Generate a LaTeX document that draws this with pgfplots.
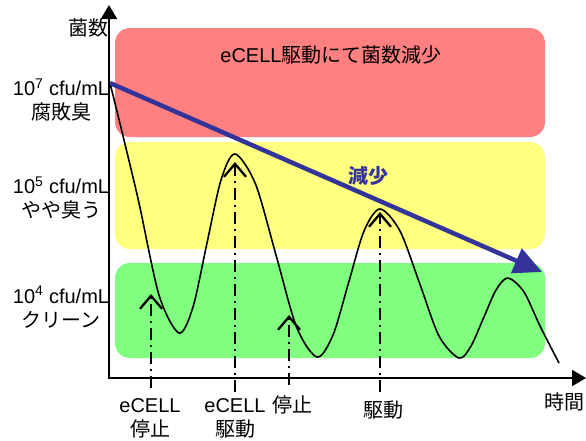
\documentclass[border=0pt]{standalone}
\usepackage{pgfplots}
\pgfplotsset{compat=1.18}
\usetikzlibrary{arrows.meta}
\usepackage{fontspec}
\setmainfont{Liberation Sans}
\newfontfamily\jp{Noto Sans CJK JP}

\definecolor{boxred}{HTML}{FF8080}
\definecolor{boxyellow}{HTML}{FFFF80}
\definecolor{boxgreen}{HTML}{80FF80}
\definecolor{arrowblue}{HTML}{333399}

\begin{document}
\begin{tikzpicture}
\begin{axis}[
    width=586pt, height=440pt,
    scale only axis,
    xmin=0, xmax=586,
    ymin=0, ymax=440,
    y dir=reverse,
    hide axis,
    clip=false,
]

% zones
\fill[boxred, rounded corners=15pt] (axis cs:115,28) rectangle (axis cs:545,137);
\fill[boxyellow, rounded corners=15pt] (axis cs:115,142) rectangle (axis cs:545,249);
\fill[boxgreen, rounded corners=15pt] (axis cs:115,263) rectangle (axis cs:545,358);

% bacteria count
\addplot[black, line width=1.6pt, smooth] coordinates {
(110,83) (124,140) (139,203) (159,295) (179,333)
(193,307) (207,243) (221,180) (235,154)
(255.5,184) (276,255) (296.5,327) (317,357)
(333,335) (348.5,283) (364,231) (380,209)
(400,231) (419.5,283) (439,336) (459,358)
(471,346) (483.5,318) (496,290) (508,278)
(524,292) (540,326) (559,363)
};

% trend
\addplot[arrowblue, line width=4.5pt, -{Triangle[length=28pt, width=26pt]}]
    coordinates {(110,83) (542,272)};

% eCELL on / off
\addplot[black, line width=2.3pt, dash pattern=on 12pt off 5pt on 2pt off 5pt,
    -{Straight Barb[length=13pt, width=22pt, line width=2.3pt]}]
    coordinates {(151,388) (151,294)};
\addplot[black, line width=2.3pt, dash pattern=on 12pt off 5pt on 2pt off 5pt,
    -{Straight Barb[length=13pt, width=22pt, line width=2.3pt]}]
    coordinates {(235,392) (235,162)};
\addplot[black, line width=2.3pt, dash pattern=on 12pt off 5pt on 2pt off 5pt,
    -{Straight Barb[length=13pt, width=22pt, line width=2.3pt]}]
    coordinates {(289,385) (289,315)};
\addplot[black, line width=2.3pt, dash pattern=on 12pt off 5pt on 2pt off 5pt,
    -{Straight Barb[length=13pt, width=22pt, line width=2.3pt]}]
    coordinates {(380,392) (380,212)};

% axes
\addplot[black, line width=2pt, -{Triangle[length=14pt, width=16pt]}]
    coordinates {(109,378) (109,5)};
\addplot[black, line width=2pt, -{Triangle[length=14pt, width=16pt]}]
    coordinates {(108,378) (586,378)};

% texts
\tikzset{every node/.style={font=\fontsize{20}{24}\selectfont, inner sep=0pt}}
\node at (axis cs:331,55) {eCELL{\jp 駆動にて菌数減少}};
\node[text=arrowblue] at (axis cs:368,176) {\jp\bfseries 減少};
\node[anchor=east] at (axis cs:109,28) {\jp 菌数};
\node[align=center] at (axis cs:61,100) {10\textsuperscript{7} cfu/mL\\{\jp 腐敗臭}};
\node[align=center] at (axis cs:61,198) {10\textsuperscript{5} cfu/mL\\{\jp やや臭う}};
\node[align=center] at (axis cs:61,307) {10\textsuperscript{4} cfu/mL\\{\jp クリーン}};
\node[align=center] at (axis cs:150,418) {eCELL\\{\jp 停止}};
\node[align=center] at (axis cs:235,418) {eCELL\\{\jp 駆動}};
\node at (axis cs:292,405) {\jp 停止};
\node at (axis cs:383,410) {\jp 駆動};
\node[anchor=east] at (axis cs:585,402) {\jp 時間};

\end{axis}
\pgfresetboundingbox
\useasboundingbox (current axis.south west) rectangle (current axis.north east);
\end{tikzpicture}
\end{document}
